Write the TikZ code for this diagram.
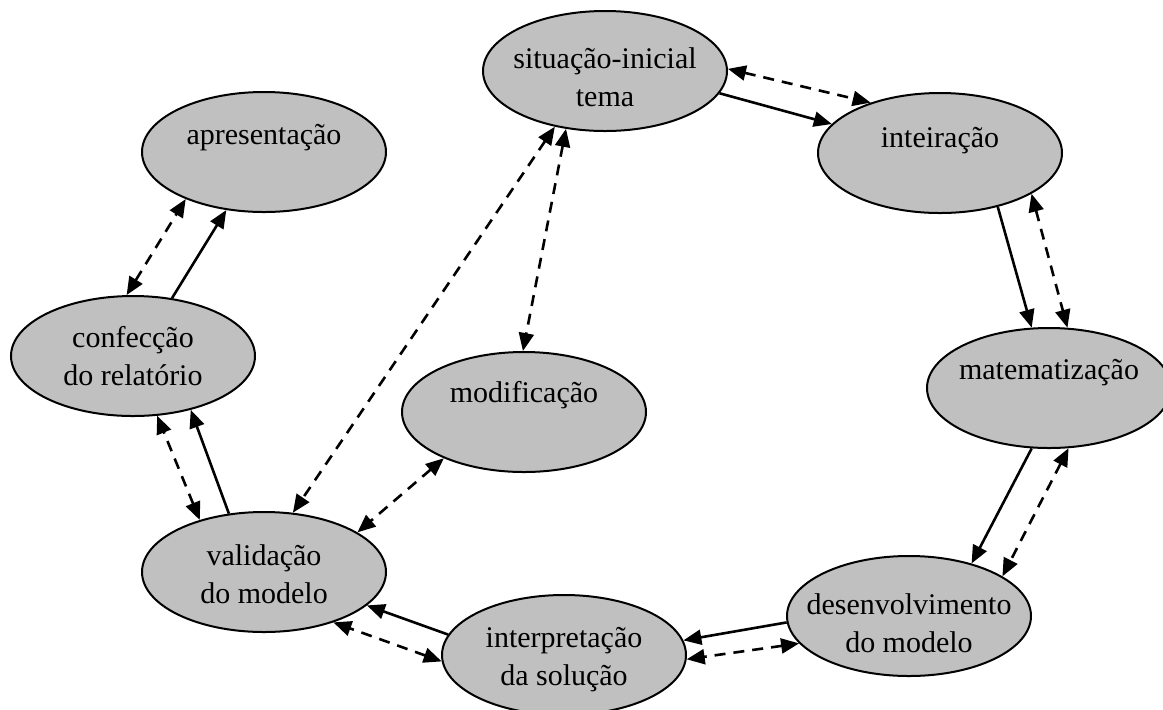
\documentclass[tikz,border=0pt]{standalone}
\usepackage{fontspec}
\setmainfont{Liberation Serif}
\usetikzlibrary{shapes.geometric,arrows.meta}
\definecolor{stagefill}{RGB}{192,192,192}
\begin{document}
\begin{tikzpicture}[x=0.5pt,y=-0.5pt,
  stage/.style={ellipse,draw=black,line width=1pt,fill=stagefill,
    minimum width=122pt,minimum height=60pt,inner sep=0pt},
  txt/.style={font=\fontsize{15pt}{19pt}\selectfont,align=center,inner sep=0pt},
  flow/.style={line width=1.3pt,-{Triangle[length=9pt,width=7.5pt]}},
  link/.style={line width=1.3pt,dash pattern=on 5.5pt off 4pt,
    {Triangle[length=9pt,width=7.5pt]}-{Triangle[length=9pt,width=7.5pt]}}]
\useasboundingbox (0,0) rectangle (1163,709);

% stages of the modelling cycle
\node[stage,label={[txt,yshift=-3pt]center:situação-inicial\\tema}] (sit) at (605,71) {};
\node[stage,label={[txt,yshift=6pt]center:inteiração}] (int) at (940,153) {};
\node[stage,label={[txt,yshift=7pt]center:apresentação}] (apr) at (264,152) {};
\node[stage,label={[txt,yshift=0pt]center:confecção\\do relatório}] (con) at (133,356) {};
\node[stage,label={[txt,yshift=8.5pt]center:modificação}] (mod) at (524,412) {};
\node[stage,label={[txt,yshift=7.5pt]center:matematização}] (mat) at (1049,388) {};
\node[stage,label={[txt,yshift=-1.25pt]center:validação\\do modelo}] (val) at (264,572) {};
\node[stage,label={[txt,yshift=-2.5pt]center:interpretação\\da solução}] (itp) at (564,655) {};
\node[stage,label={[txt,yshift=-3.5pt]center:desenvolvimento\\do modelo}] (des) at (909,616) {};

% main flow (solid)
\draw[flow] (sit.-11) -- (int.165);
\draw[flow] (int.-43) -- (mat.106);
\draw[flow] (mat.-106) -- (des.40);
\draw[flow] (des.-177) -- (itp.7);
\draw[flow] (itp.170) -- (val.-18);
\draw[flow] (val.121) -- (con.-43);
\draw[flow] (con.56) -- (apr.-123);

% feedback links (dashed, both ways)
\draw[link] (sit.1) -- (int.144);
\draw[link] (int.-24) -- (mat.73);
\draw[link] (mat.-72) -- (des.23);
\draw[link] (des.-166) -- (itp.-2);
\draw[link] (itp.-177) -- (val.-36);
\draw[link] (val.141) -- (con.-68);
\draw[link] (con.96) -- (apr.-149);
\draw[link] (sit.-124) -- (mod.91);
\draw[link] (sit.-132) -- (val.64);
\draw[link] (mod.-150) -- (val.23);
\end{tikzpicture}
\end{document}
